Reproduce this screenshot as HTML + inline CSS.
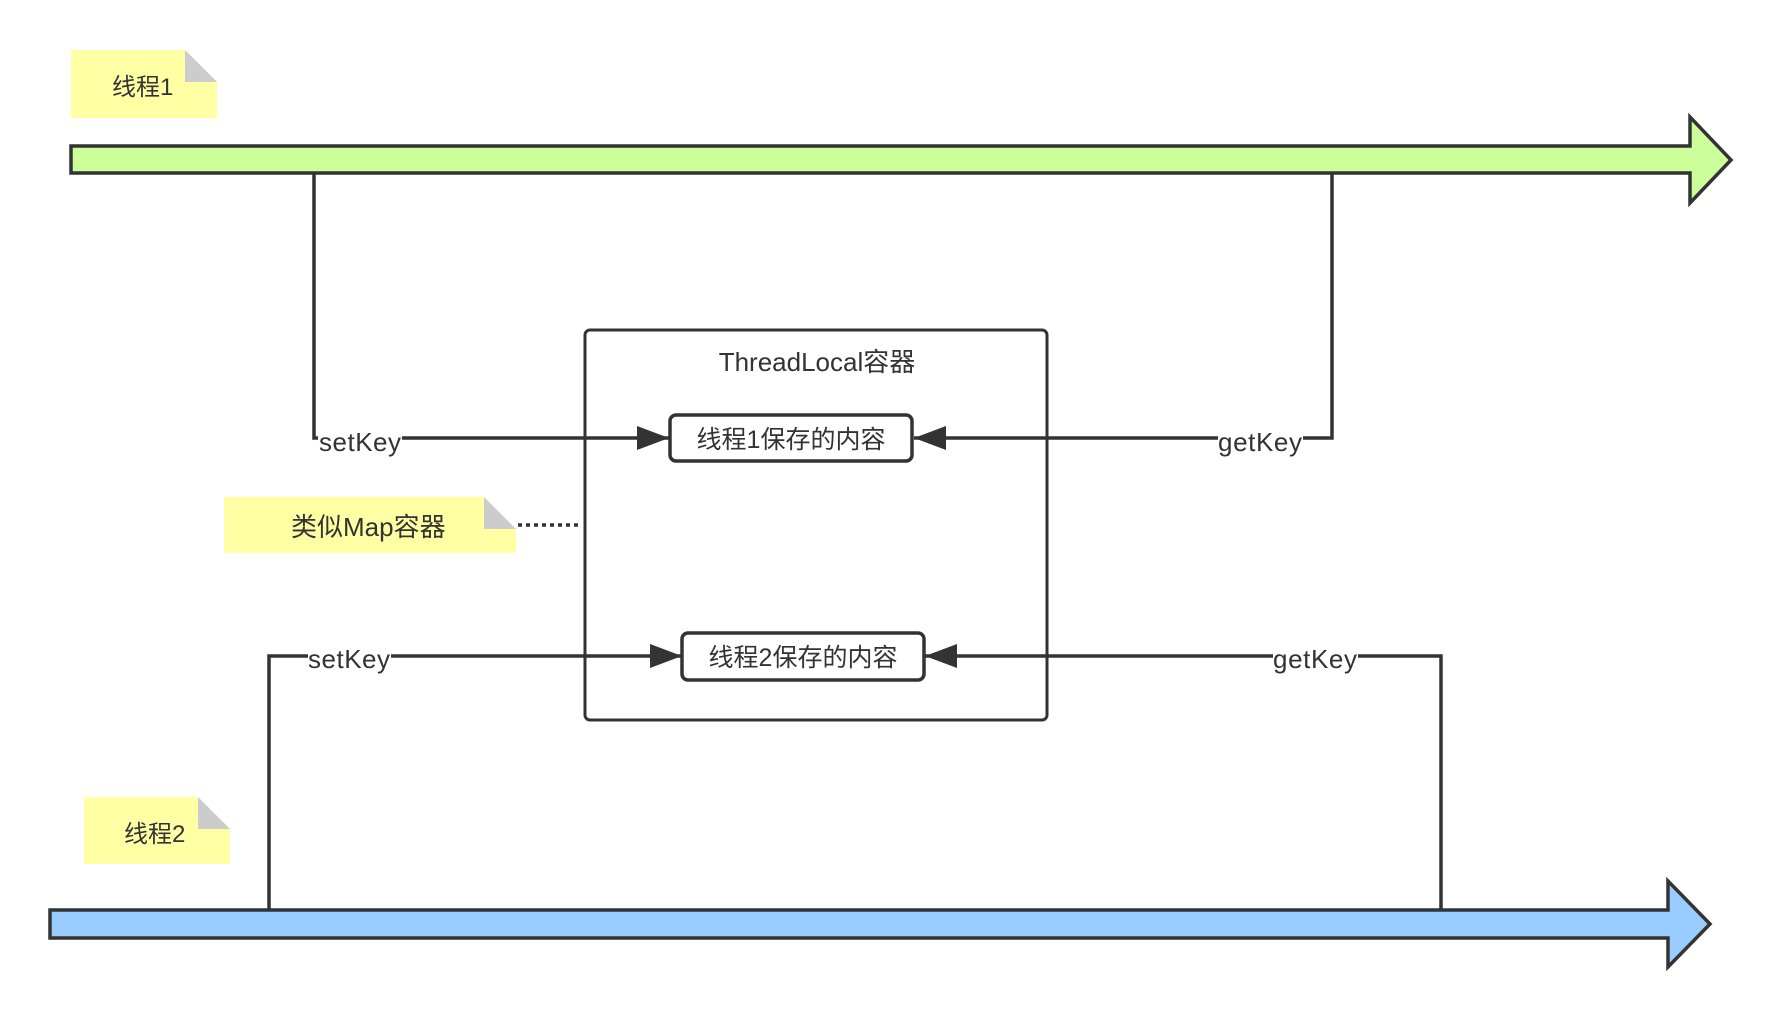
<!DOCTYPE html>
<html><head><meta charset="utf-8"><style>
body{margin:0;background:#fff;}
svg text{font-family:"Liberation Sans","Noto Sans CJK SC",sans-serif;fill:#333;}
</style></head><body>
<svg width="1780" height="1010" viewBox="0 0 1780 1010" xmlns="http://www.w3.org/2000/svg">
<defs>
<marker id="ah" viewBox="0 0 32 24" refX="32" refY="12" markerWidth="32" markerHeight="24" markerUnits="userSpaceOnUse" orient="auto"><path d="M0,0 L32,12 L0,24z" fill="#333"/></marker>
</defs>
<polygon points="71,146 1690,146 1690,117 1731,160 1690,203 1690,173 71,173" fill="#ccff99" stroke="#333" stroke-width="3.5"/>
<polygon points="50,910 1668,910 1668,881 1710,924 1668,967 1668,938 50,938" fill="#99ccff" stroke="#333" stroke-width="3.5"/>
<polygon points="71,50 185,50 217,82 217,118 71,118" fill="#ffff99" opacity="0.9"/>
<polygon points="185,50 217,82 185,82" fill="#ccc"/>
<text x="112" y="95" font-size="24">线程1</text>
<polygon points="84,797 198,797 230,829 230,864 84,864" fill="#ffff99" opacity="0.9"/>
<polygon points="198,797 230,829 198,829" fill="#ccc"/>
<text x="124" y="842" font-size="24">线程2</text>
<polygon points="224,497 484,497 516,529 516,553 224,553" fill="#ffff99" opacity="0.9"/>
<polygon points="484,497 516,529 484,529" fill="#ccc"/>
<text x="291" y="536" font-size="26">类似Map容器</text>
<line x1="518" y1="525" x2="582" y2="525" stroke="#333" stroke-width="3.5" stroke-dasharray="4,4"/>
<rect x="585" y="330" width="462" height="390" rx="5" fill="none" stroke="#333" stroke-width="3"/>
<text x="817" y="371" font-size="26" text-anchor="middle">ThreadLocal容器</text>
<g fill="none" stroke="#333" stroke-width="3.5">
<polyline points="314,173 314,438 669,438" marker-end="url(#ah)"/>
<polyline points="1332,173 1332,438 914,438" marker-end="url(#ah)"/>
<polyline points="269,910 269,656 682,656" marker-end="url(#ah)"/>
<polyline points="1441,910 1441,656 925,656" marker-end="url(#ah)"/>
</g>
<rect x="670" y="415" width="242" height="46" rx="6" fill="#fff" stroke="#333" stroke-width="3.5"/>
<text x="791" y="448" font-size="25" text-anchor="middle">线程1保存的内容</text>
<rect x="682" y="633" width="242" height="47" rx="6" fill="#fff" stroke="#333" stroke-width="3.5"/>
<text x="803" y="666" font-size="25" text-anchor="middle">线程2保存的内容</text>
<rect x="318" y="428" width="84" height="22" fill="#fff"/>
<text x="319" y="451" font-size="26" textLength="82">setKey</text>
<rect x="1218" y="428" width="85" height="22" fill="#fff"/>
<text x="1218" y="451" font-size="26" textLength="84">getKey</text>
<rect x="308" y="646" width="83" height="22" fill="#fff"/>
<text x="308" y="668" font-size="26" textLength="82">setKey</text>
<rect x="1273" y="646" width="85" height="22" fill="#fff"/>
<text x="1273" y="668" font-size="26" textLength="84">getKey</text>
</svg>
</body></html>
